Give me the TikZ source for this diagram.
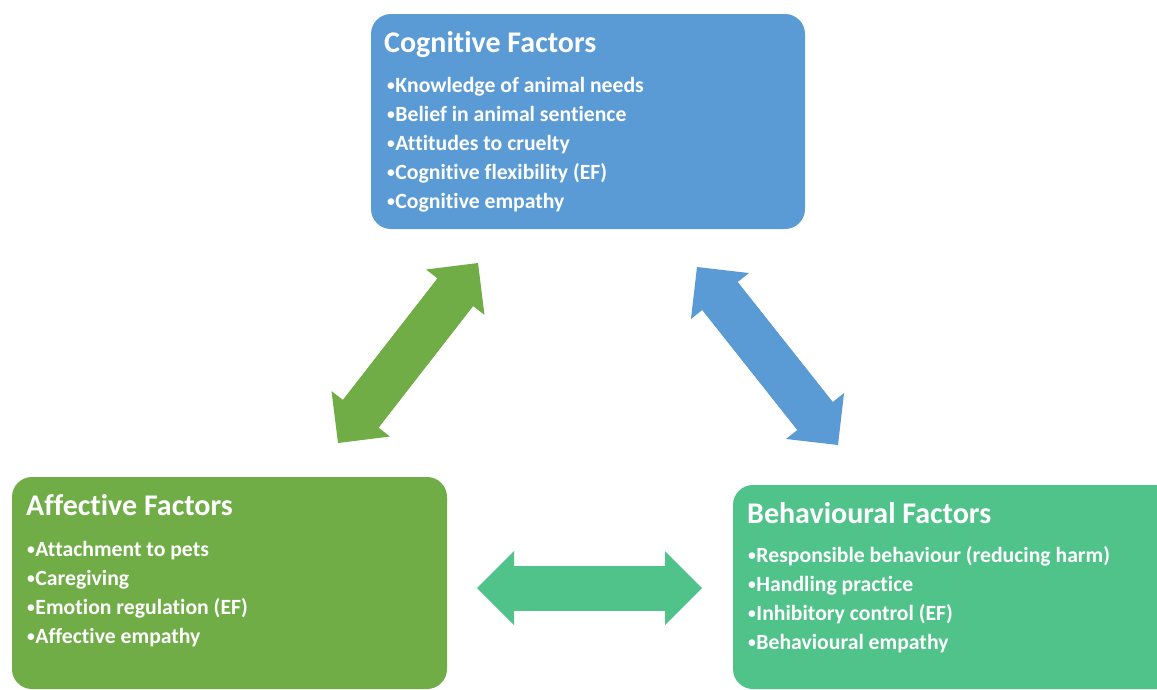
\documentclass[tikz,border=0pt]{standalone}
\usepackage{fontspec}
\setmainfont{Carlito}[Ligatures={NoCommon}]
\usetikzlibrary{arrows.meta}
\definecolor{cogblue}{HTML}{5B9BD5}
\definecolor{affgreen}{HTML}{70AD47}
\definecolor{behgreen}{HTML}{50C38A}
\newcommand{\bul}{\raisebox{0.12ex}{\scalebox{0.72}{•}}\kern0.5pt}
\tikzset{
  box/.style={rounded corners=20pt, inner sep=0pt, draw=none},
  ttl/.style={anchor=base west, inner sep=0pt, text=white, font=\bfseries\fontsize{30}{36}\selectfont},
  itm/.style={anchor=base west, inner sep=0pt, text=white, font=\bfseries\fontsize{21.7}{26}\selectfont},
  blockarrow/.style={line width=45pt, {Triangle[length=37pt,width=74pt,line width=0pt]}-{Triangle[length=37pt,width=74pt,line width=0pt]}},
  shaftfill/.style={line width=45pt, shorten <=30pt, shorten >=30pt}
}
\begin{document}
\begin{tikzpicture}[x=1pt,y=-1pt]
\useasboundingbox (0,0) rectangle (1157,689);
\fill[white] (0,0) rectangle (1157,689);
% boxes
\node[box, fill=cogblue, minimum width=434pt, minimum height=215pt] (cog) at (588,121.5) {};
\node[box, fill=affgreen, minimum width=435pt, minimum height=212pt] (aff) at (229.5,583) {};
\node[box, fill=behgreen, minimum width=444pt, minimum height=204pt] (beh) at (955,587) {};
% cognitive text
\node[ttl] (cogT) at (384,52) {Cognitive Factors};
\node[itm] (c1) at (387,92) {\bul Knowledge of animal needs};
\node[itm] (c2) at (387,121) {\bul Belief in animal sentience};
\node[itm] (c3) at (387,150) {\bul Attitudes to cruelty};
\node[itm] (c4) at (387,179) {\bul Cognitive flexibility (EF)};
\node[itm] (c5) at (387,208) {\bul Cognitive empathy};
% affective text
\node[ttl] (affT) at (26,515) {Affective Factors};
\node[itm] (a1) at (27,556) {\bul Attachment to pets};
\node[itm] (a2) at (27,585) {\bul Caregiving};
\node[itm] (a3) at (27,614) {\bul Emotion regulation (EF)};
\node[itm] (a4) at (27,643) {\bul Affective empathy};
% behavioural text
\node[ttl] (behT) at (747,523) {Behavioural Factors};
\node[itm] (b1) at (748,562) {\bul Responsible behaviour (reducing harm)};
\node[itm] (b2) at (748,591) {\bul Handling practice};
\node[itm] (b3) at (748,620) {\bul Inhibitory control (EF)};
\node[itm] (b4) at (748,649) {\bul Behavioural empathy};
% arrows
\coordinate (gA) at (478,263);
\coordinate (gB) at (338,443);
\coordinate (bA) at (697,267);
\coordinate (bB) at (838,445);
\coordinate (hA) at (477,588);
\coordinate (hB) at (702,588);
\draw[blockarrow, affgreen] (gB) -- (gA);
\draw[shaftfill, affgreen] (gB) -- (gA);
\draw[blockarrow, cogblue] (bA) -- (bB);
\draw[shaftfill, cogblue] (bA) -- (bB);
\draw[blockarrow, behgreen] (hA) -- (hB);
\draw[shaftfill, behgreen] (hA) -- (hB);
\end{tikzpicture}
\end{document}
